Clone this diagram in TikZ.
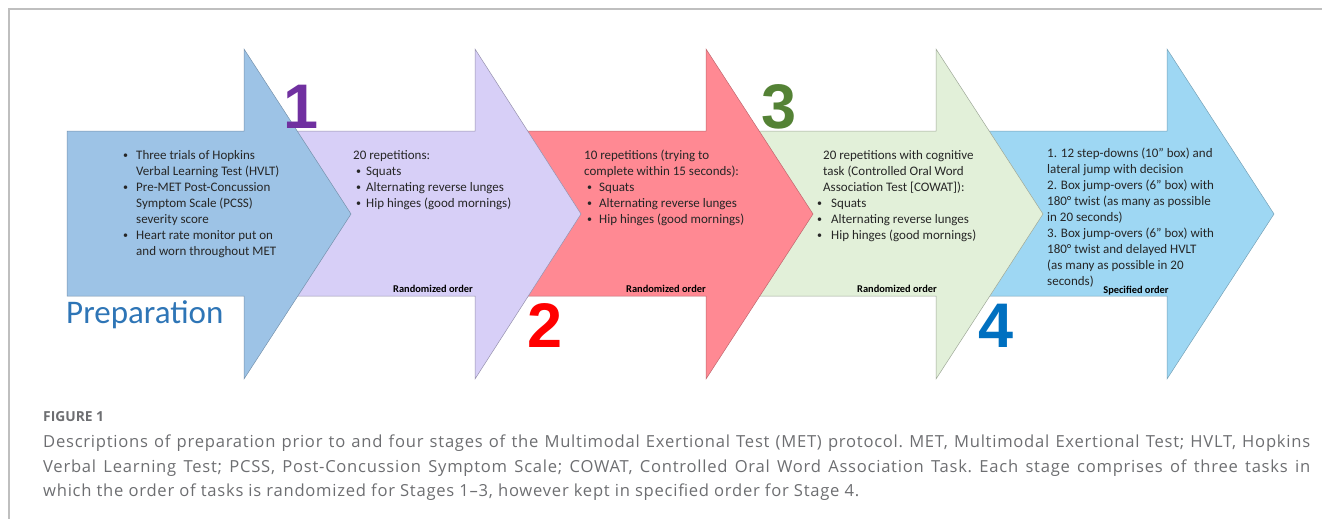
\documentclass[tikz,border=0pt]{standalone}
\usepackage{fontspec}
\setmainfont{Carlito}
\newfontfamily\numFont{Liberation Sans}
\newfontfamily\capFont[LetterSpace=4.5]{Open Sans}
\newfontfamily\capLabelFont{Open Sans}
\usetikzlibrary{positioning}
\definecolor{prepColor}{RGB}{157,195,230}
\definecolor{stageOneColor}{RGB}{215,207,247}
\definecolor{stageTwoColor}{RGB}{255,137,147}
\definecolor{stageThreeColor}{RGB}{226,240,217}
\definecolor{stageFourColor}{RGB}{158,215,243}
\definecolor{prepTextColor}{RGB}{46,117,182}
\definecolor{oneColor}{RGB}{112,48,160}
\definecolor{twoColor}{RGB}{255,0,0}
\definecolor{threeColor}{RGB}{84,130,53}
\definecolor{fourColor}{RGB}{0,112,192}
\definecolor{captionColor}{RGB}{109,110,113}
\newcommand{\stageBullet}{\raisebox{0.8pt}{\fontsize{10}{10}\selectfont\textbullet}}

\begin{document}
\begin{tikzpicture}[x=1pt, y=-1pt,
    stagetext/.style={anchor=north west, inner sep=0pt, align=left, text=black!85, font=\fontsize{13}{16}\selectfont},
    ordertext/.style={inner sep=0pt, font=\fontsize{10.4}{12}\selectfont\bfseries},
    stagenum/.style={anchor=base, inner sep=0pt, font=\numFont\bfseries\fontsize{63}{63}\selectfont}]
    \useasboundingbox (0,0) rectangle (1322,519);
    % Marco de la figura
    \draw[gray!50, line width=1.5pt] (9,519) -- (9,9) -- (1322,9);

    % Flechas (de la ultima a la primera, para que se solapen bien)
    \filldraw[fill=stageFourColor, draw=stageFourColor!75!black, line width=0.5pt] (946,131) -- (1167,131) -- (1167,49) -- (1274,214) -- (1167,379) -- (1167,296) -- (946,296) -- cycle;
    \filldraw[fill=stageThreeColor, draw=stageThreeColor!70!black, line width=0.5pt] (716,131) -- (936,131) -- (936,49) -- (1043,214) -- (936,379) -- (936,296) -- (716,296) -- cycle;
    \filldraw[fill=stageTwoColor, draw=stageTwoColor!75!black, line width=0.5pt] (485,131) -- (706,131) -- (706,49) -- (813,214) -- (706,379) -- (706,296) -- (485,296) -- cycle;
    \filldraw[fill=stageOneColor, draw=stageOneColor!70!black, line width=0.5pt] (254,131) -- (475,131) -- (475,49) -- (581,214) -- (475,379) -- (475,296) -- (254,296) -- cycle;
    \filldraw[fill=prepColor, draw=prepColor!75!black, line width=0.5pt] (67,131) -- (244,131) -- (244,49) -- (351,214) -- (244,379) -- (244,296) -- (67,296) -- cycle;

    % Preparacion
    \node[stagetext] (prepList) at (123,148) {\begin{tabular}{@{}p{13pt}@{}l@{}}
        \stageBullet & Three trials of Hopkins\\
                     & Verbal Learning Test (HVLT)\\
        \stageBullet & Pre-MET Post-Concussion\\
                     & Symptom Scale (PCSS)\\
                     & severity score\\
        \stageBullet & Heart rate monitor put on\\
                     & and worn throughout MET
    \end{tabular}};
    \node[anchor=base west, inner sep=0pt, prepTextColor, font=\fontsize{33}{33}\selectfont] (prepLabel) at (66,323) {Preparation};

    % Etapa 1
    \node[stagetext] (oneList) at (353,148) {\begin{tabular}{@{\hspace{3pt}}p{10pt}@{}l@{}}
        \multicolumn{2}{@{}l@{}}{20 repetitions:}\\
        \stageBullet & Squats\\
        \stageBullet & Alternating reverse lunges\\
        \stageBullet & Hip hinges (good mornings)
    \end{tabular}};
    \node[ordertext] (oneOrder) at (433,289) {Randomized order};
    \node[stagenum, oneColor] (oneNum) at (301,128) {1};

    % Etapa 2
    \node[stagetext] (twoList) at (584,148) {\begin{tabular}{@{\hspace{3pt}}p{12pt}@{}l@{}}
        \multicolumn{2}{@{}l@{}}{10 repetitions (trying to}\\
        \multicolumn{2}{@{}l@{}}{complete within 15 seconds):}\\
        \stageBullet & Squats\\
        \stageBullet & Alternating reverse lunges\\
        \stageBullet & Hip hinges (good mornings)
    \end{tabular}};
    \node[ordertext] (twoOrder) at (666,289) {Randomized order};
    \node[stagenum, twoColor] (twoNum) at (545,347) {2};

    % Etapa 3
    \node[stagetext] (threeList) at (823,148) {\begin{tabular}{@{\hspace{-6pt}}p{14pt}@{}l@{}}
        \multicolumn{2}{@{}l@{}}{20 repetitions with cognitive}\\
        \multicolumn{2}{@{}l@{}}{task (Controlled Oral Word}\\
        \multicolumn{2}{@{}l@{}}{Association Test [COWAT]):}\\
        \stageBullet & Squats\\
        \stageBullet & Alternating reverse lunges\\
        \stageBullet & Hip hinges (good mornings)
    \end{tabular}};
    \node[ordertext] (threeOrder) at (897,289) {Randomized order};
    \node[stagenum, threeColor] (threeNum) at (779,128) {3};

    % Etapa 4
    \node[stagetext] (fourList) at (1047,148) {1. 12 step-downs (10\textquotedblright{} box) and\\
        lateral jump with decision\\
        2. Box jump-overs (6\textquotedblright{} box) with\\
        180\textdegree{} twist (as many as possible\\
        in 20 seconds)\\
        3. Box jump-overs (6\textquotedblright{} box) with\\
        180\textdegree{} twist and delayed HVLT\\
        (as many as possible in 20\\
        seconds)};
    \node[ordertext] (fourOrder) at (1136,291) {Specified order};
    \node[stagenum, fourColor] (fourNum) at (996,347) {4};

    % Pie de figura
    \node[anchor=base west, inner sep=0pt, captionColor, font=\capLabelFont\bfseries\fontsize{13.8}{15}\selectfont] (figLabel) at (43,421) {FIGURE 1};
    \node[anchor=north west, inner sep=0pt, text width=1267pt, align=justify, captionColor, font=\capFont\fontsize{16.6}{24.5}\selectfont\frenchspacing] (figCaption) at (43,435) {Descriptions of preparation prior to and four stages of the Multimodal Exertional Test (MET) protocol. MET, Multimodal Exertional Test; HVLT, Hopkins\linebreak
        Verbal Learning Test; PCSS, Post-Concussion Symptom Scale; COWAT, Controlled Oral Word Association Task. Each stage comprises of three tasks in\linebreak
        which the order of tasks is randomized for Stages 1\textendash 3, however kept in specified order for Stage 4.};
\end{tikzpicture}
\end{document}
